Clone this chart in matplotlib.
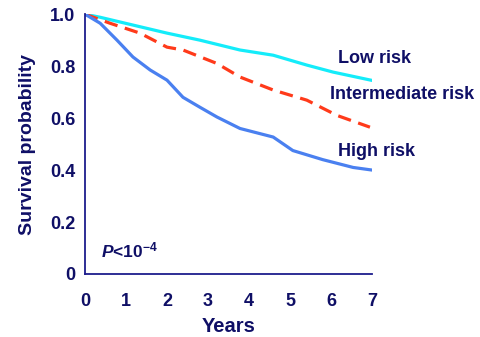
import matplotlib
matplotlib.use("Agg")
import matplotlib.pyplot as plt

plt.rcParams['font.family'] = ['Liberation Sans', 'DejaVu Sans']
plt.rcParams['font.weight'] = 'bold'
plt.rcParams['axes.labelweight'] = 'bold'
plt.rcParams['mathtext.fontset'] = 'custom'
plt.rcParams['mathtext.rm'] = 'Liberation Sans:bold'
plt.rcParams['mathtext.it'] = 'Liberation Sans:bold:italic'
plt.rcParams['mathtext.bf'] = 'Liberation Sans:bold'

navy = '#0f0f66'

# survival curves (years, probability)
low_years = [0, 0.37, 1.17, 2.0, 2.8, 3.78, 4.59, 5.41, 6.05, 7.0]
low_surv = [1.0, 0.988, 0.958, 0.927, 0.90, 0.862, 0.842, 0.804, 0.777, 0.745]

mid_years = [0, 0.61, 1.34, 2.0, 2.39, 3.22, 3.78, 4.59, 5.41, 6.15, 6.95]
mid_surv = [1.0, 0.965, 0.927, 0.873, 0.862, 0.81, 0.758, 0.708, 0.669, 0.61, 0.565]

high_years = [0, 0.37, 0.78, 1.17, 1.59, 2.0, 2.39, 2.8, 3.22, 3.78, 4.59, 5.07, 5.8, 6.54, 7.0]
high_surv = [1.0, 0.965, 0.90, 0.835, 0.785, 0.746, 0.68, 0.642, 0.604, 0.56, 0.527, 0.475, 0.44, 0.41, 0.40]

labels = ["Low risk", "Intermediate risk", "High risk"]
label_pos = [(6.17, 0.83), (5.98, 0.69), (6.17, 0.47)]

xticks = [0, 1, 2, 3, 4, 5, 6, 7]
yticks = [0, 0.2, 0.4, 0.6, 0.8, 1.0]
ytick_labels = ["0", "0.2", "0.4", "0.6", "0.8", "1.0"]

fig = plt.figure(figsize=(4.81, 3.37), dpi=100)
ax = fig.add_axes([0.1767, 0.187, 0.5967, 0.771])

ax.plot(low_years, low_surv, color='#14ecfa', lw=2.3, solid_capstyle='round')
ax.plot(mid_years, mid_surv, color='#ff3a1a', lw=2.3, dashes=(4.2, 2.4))
ax.plot(high_years, high_surv, color='#4a80f0', lw=2.3, solid_capstyle='round')

for txt, (x, y) in zip(labels, label_pos):
    ax.text(x, y, txt, fontsize=13, color=navy, ha='left', va='center', clip_on=False)

ax.text(0.4, 0.09, r'$\mathit{P}$<10$^{\mathrm{-4}}$', fontsize=12.5, color=navy, ha='left', va='center')

ax.set_xlim(0, 7)
ax.set_ylim(0, 1.0)
ax.set_xticks(xticks)
ax.set_yticks(yticks)
ax.set_yticklabels(ytick_labels)
ax.tick_params(length=0, labelsize=13, labelcolor=navy, pad=7)
ax.tick_params(axis='x', pad=14)

for s in ['top', 'right']:
    ax.spines[s].set_visible(False)
for s in ['left', 'bottom']:
    ax.spines[s].set_color('#1c1c8c')
    ax.spines[s].set_linewidth(1.3)

ax.set_xlabel("Years", fontsize=14.5, color=navy, labelpad=5)
ax.set_ylabel("Survival probability", fontsize=14, color=navy, labelpad=10)

fig.savefig("out.png", dpi=100)
